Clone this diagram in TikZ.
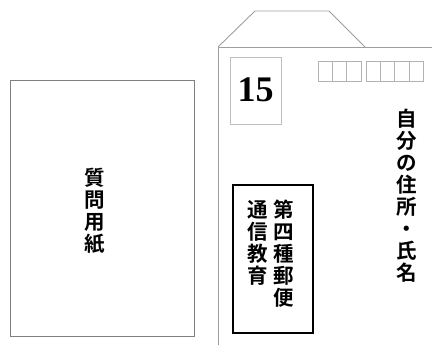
\documentclass[tikz,border=0pt]{standalone}
\usepackage{fontspec}
\newfontfamily\cjk{Noto Sans CJK JP Bold}
\newfontfamily\numfont{Liberation Serif}
\begin{document}
\begin{tikzpicture}[x=1pt,y=-1pt,
  paper/.style={draw=black!50, line width=1pt},
  envline/.style={draw=black!38, line width=0.9pt},
  stampbox/.style={draw=black!25, line width=0.9pt},
  zipbox/.style={draw=black!30, line width=0.8pt},
  labelbox/.style={draw=black, line width=1.4pt},
  vtxt/.style={font=\cjk\fontsize{20.5}{22}\selectfont, align=center, inner sep=0pt}]
\useasboundingbox (0,0) rectangle (432,345);
% question sheet
\draw[paper] (10,81) rectangle (194,336);
\node[vtxt] (q) at (95,211) {質\\問\\用\\紙};
% envelope
\coordinate (eb) at (218,345);
\coordinate (el) at (218,47);
\coordinate (er) at (432,47);
\coordinate (f1) at (255,11);
\coordinate (f2) at (329,11);
\coordinate (f3) at (365,47);
\draw[envline] (eb) -- (el) -- (er);
\draw[envline] (el) -- (f1) -- (f2) -- (f3);
% stamp
\draw[stampbox] (230,57) rectangle (281,124);
\node[font=\numfont\bfseries\fontsize{36}{36}\selectfont, inner sep=0pt] (num) at (255.5,90) {15};
% zip boxes
\foreach \i in {0,1,2} {\draw[zipbox] (318+\i*14.4,61) rectangle ++(14.4,20);}
\foreach \i in {0,1,2,3} {\draw[zipbox] (366+\i*14.3,61) rectangle ++(14.3,20);}
% address
\node[vtxt] (addr) at (407,196) {自\\分\\の\\住\\所\\・\\氏\\名};
% label box
\draw[labelbox] (233,185) rectangle (313,333);
\node[vtxt, anchor=north] (l1) at (284,200) {第\\四\\種\\郵\\便};
\node[vtxt, anchor=north] (l2) at (258,200) {通\\信\\教\\育};
\end{tikzpicture}
\end{document}
